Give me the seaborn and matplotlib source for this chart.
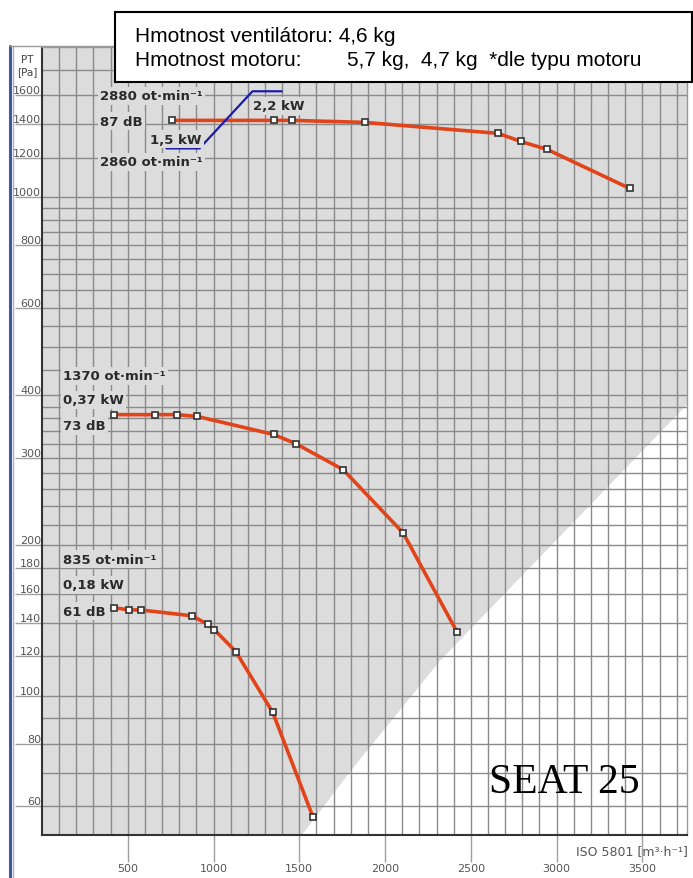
import numpy as np
import pandas as pd
import matplotlib
matplotlib.use("Agg")
import matplotlib.pyplot as plt
import seaborn as sns
from matplotlib.lines import Line2D
from matplotlib.patches import Rectangle

sns.set_theme(style="white")
plt.rcParams['font.family'] = ['DejaVu Sans']

# fan curves (flow m3/h, total pressure Pa)
flow_2880 = [760, 1350, 1460, 1880, 2660, 2790, 2945, 3425]
pt_2880 = [1425, 1425, 1425, 1412, 1342, 1293, 1246, 1041]
flow_1370 = [420, 660, 785, 905, 1350, 1480, 1755, 2105, 2420]
pt_1370 = [366, 366, 366, 363, 334, 320, 284, 212, 134]
flow_835 = [420, 510, 575, 875, 965, 1005, 1130, 1345, 1580]
pt_835 = [150, 148.5, 148.5, 144.5, 139, 135.5, 122.5, 92.5, 57]

# motor power step line
power_flow = [725, 918, 1227, 1397]
power_pt = [1252, 1252, 1630, 1630]

# edge of the grey working area
edge_flow = [0, 1510, 1800, 2320, 3760]
edge_pt = [52.5, 52.5, 71, 118, 385]

x_ticks = [500, 1000, 1500, 2000, 2500, 3000, 3500]
y_ticks = [60, 80, 100, 120, 140, 160, 180, 200, 300, 400, 600, 800, 1000, 1200, 1400, 1600]
y_grid = ([60, 70, 80, 90, 100] + list(range(120, 400, 20)) + list(range(400, 1000, 50))
          + [1000, 1200, 1400, 1600, 1800])

W, H = 693, 879
fig = plt.figure(figsize=(W / 100, H / 100), dpi=100)
ax = fig.add_axes([42 / W, 43 / H, 645 / W, 788 / H])
ax.set_facecolor('white')
ax.set_yscale('log')
ax.set_xlim(0, 3760)
ax.set_ylim(52.5, 2000)

bg = '#dcdcdc'
ax.fill_between(edge_flow, edge_pt, 2000, color=bg, lw=0, zorder=0.1)

ax.set_xticks(x_ticks)
ax.set_xticklabels([str(v) for v in x_ticks])
ax.set_xticks(np.arange(100, 3760, 100), minor=True)
ax.set_yticks(y_ticks)
ax.set_yticklabels([str(v) for v in y_ticks])
ax.set_yticks([v for v in y_grid if v not in y_ticks], minor=True)
ax.yaxis.set_minor_formatter(plt.NullFormatter())
ax.grid(True, which='both', color='#8a8a8a', lw=1.0)
ax.tick_params(axis='both', which='minor', length=0)
ax.tick_params(axis='x', which='major', length=19.5, width=1, color='#a0a0a0',
               labelsize=8, labelcolor='#555555', pad=1, direction='out', bottom=True)
ax.tick_params(axis='y', which='major', length=19.5, width=1, color='#a0a0a0',
               labelsize=8, labelcolor='#555555', pad=-19, direction='out', left=True)
for lab in ax.get_yticklabels():
    lab.set_verticalalignment('bottom')

for s in ['left', 'bottom']:
    ax.spines[s].set_color('#333333')
    ax.spines[s].set_linewidth(1.5)
for s in ['top', 'right']:
    ax.spines[s].set_color('#999999')
    ax.spines[s].set_linewidth(1)

curve_color = '#e2441a'
for fx, fy in [(flow_2880, pt_2880), (flow_1370, pt_1370), (flow_835, pt_835)]:
    df = pd.DataFrame({'flow': fx, 'pt': fy})
    sns.lineplot(data=df, x='flow', y='pt', ax=ax, sort=False, estimator=None,
                 color=curve_color, lw=2.6, zorder=3)
    ax.plot(fx, fy, ls='none', marker='s', ms=5, mfc='white', mec='#333333',
            mew=1.2, zorder=4)

sns.lineplot(x=power_flow, y=power_pt, ax=ax, sort=False, estimator=None,
             color='#1c1ca8', lw=1.6, zorder=3)
ax.set_xlabel('')
ax.set_ylabel('')


def px(x, y):
    return x / W, 1 - y / H


lab_kw = dict(fontsize=9.5, fontweight='bold', color='#2a2a2a', va='center', ha='left',
              bbox=dict(fc=bg, ec='none', pad=1.5), zorder=5)
labels = [
    ('2880 ot·min⁻¹', 100, 97), ('87 dB', 100, 122), ('1,5 kW', 150, 140),
    ('2,2 kW', 253, 107), ('2860 ot·min⁻¹', 100, 163),
    ('1370 ot·min⁻¹', 63, 377), ('0,37 kW', 63, 401), ('73 dB', 63, 427),
    ('835 ot·min⁻¹', 63, 560), ('0,18 kW', 63, 586), ('61 dB', 63, 612),
]
for t, x, y in labels:
    fig.text(*px(x, y), t, **lab_kw)

# window frame
fig.add_artist(Line2D([10 / W, 10 / W], [0, 1 - 47 / H], transform=fig.transFigure,
                      color='#3d5a9e', lw=2.2))
fig.add_artist(Line2D([13 / W, 13 / W], [0, 1 - 47 / H], transform=fig.transFigure,
                      color='#9fb0d6', lw=1))
fig.add_artist(Line2D([10 / W, 1], [1 - 47 / H, 1 - 47 / H], transform=fig.transFigure,
                      color='#999999', lw=1))

fig.text(*px(27, 60), 'PT', fontsize=7.5, color='#444444', ha='center', va='center')
fig.text(*px(27, 72), '[Pa]', fontsize=7.5, color='#444444', ha='center', va='center')

# weight box
fig.add_artist(Rectangle(px(115, 83), 577 / W, 70 / H, transform=fig.transFigure,
                         fc='white', ec='black', lw=1.5, zorder=10))
box_font = dict(fontsize=15, family=['Liberation Sans', 'DejaVu Sans'], color='black',
                va='center', ha='left', zorder=11)
fig.text(*px(135, 36), 'Hmotnost ventilátoru: 4,6 kg', **box_font)
fig.text(*px(135, 60), 'Hmotnost motoru:', **box_font)
fig.text(*px(347, 60), '5,7 kg,  4,7 kg  *dle typu motoru', **box_font)

fig.text(*px(564, 793), 'SEAT 25', fontsize=30, family=['Liberation Serif', 'DejaVu Serif'],
         color='black', ha='center', va='baseline')
fig.text(*px(688, 852), 'ISO 5801 [m³·h⁻¹]', fontsize=9, color='#555555',
         ha='right', va='center')

fig.savefig('out.png', dpi=100)
